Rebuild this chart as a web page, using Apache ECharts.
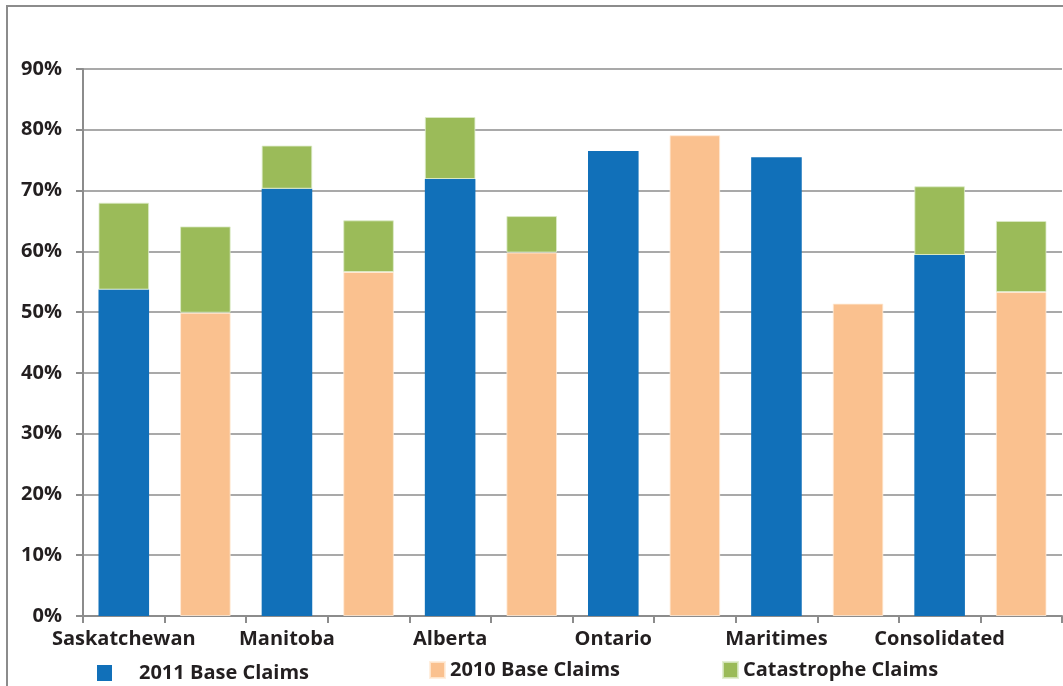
<!DOCTYPE html>
<html>
<head>
<meta charset="utf-8">
<script src="https://cdn.jsdelivr.net/npm/echarts@6/dist/echarts.min.js"></script>
<style>
html,body{margin:0;padding:0;background:#fff;}
#chart{width:1063px;height:686px;}
</style>
</head>
<body>
<div id="chart"></div>
<script>
var regions = ['Saskatchewan', 'Manitoba', 'Alberta', 'Ontario', 'Maritimes', 'Consolidated'];
var years = ['2011', '2010'];
var base2011 = [53.7, 70.3, 71.9, 76.5, 75.5, 59.4];
var base2010 = [49.9, 56.6, 59.8, 79.1, 51.4, 53.3];
var cat2011 = [14.3, 7.1, 10.2, 0, 0, 11.3];
var cat2010 = [14.2, 8.5, 6.0, 0, 0, 11.7];
var yTicks = [0, 10, 20, 30, 40, 50, 60, 70, 80, 90];

var categories = [];
var s2011 = [], s2010 = [], sCat = [];
regions.forEach(function (r, i) {
  categories.push(r + ' ' + years[0]);
  categories.push(r + ' ' + years[1]);
  s2011.push(base2011[i], null);
  s2010.push(null, base2010[i]);
  sCat.push(cat2011[i] || null, cat2010[i] || null);
});

var font = 'Open Sans';
var fs = 20;
var textColor = '#231F20';
var chart = echarts.init(document.getElementById('chart'), null, {renderer: 'canvas'});
var legendBase = {
  orient: 'horizontal',
  icon: 'rect',
  itemWidth: 15,
  itemHeight: 16,
  selectedMode: false,
  textStyle: {fontFamily: font, fontWeight: 'bold', fontSize: fs, color: textColor}
};
chart.setOption({
  animation: false,
  backgroundColor: '#fff',
  graphic: [{
    type: 'rect',
    shape: {x: 7, y: 6, width: 1100, height: 720},
    style: {fill: 'none', stroke: '#8c8c8c', lineWidth: 2},
    silent: true
  }],
  grid: {left: 83, right: 1, top: 69, bottom: 70, containLabel: false},
  legend: [
    Object.assign({}, legendBase, {data: ['2011 Base Claims'], left: 92, top: 658,
      textStyle: Object.assign({}, legendBase.textStyle, {padding: [0, 0, 0, 22]})}),
    Object.assign({}, legendBase, {data: ['2010 Base Claims'], left: 424, top: 655}),
    Object.assign({}, legendBase, {data: ['Catastrophe Claims'], left: 717, top: 655})
  ],
  xAxis: {
    type: 'category',
    data: categories,
    boundaryGap: true,
    axisLine: {show: true, lineStyle: {color: '#8c8c8c', width: 2}},
    axisTick: {show: true, interval: 0, length: 7, lineStyle: {color: '#8c8c8c', width: 2}},
    axisLabel: {
      interval: 0,
      margin: 13,
      fontFamily: font, fontWeight: 'bold', fontSize: fs, color: textColor,
      formatter: function (v, idx) { return idx % 2 === 0 ? regions[idx / 2] : ''; }
    }
  },
  yAxis: {
    type: 'value',
    min: yTicks[0],
    max: yTicks[yTicks.length - 1],
    interval: 10,
    axisLine: {show: true, lineStyle: {color: '#8c8c8c', width: 2}},
    axisTick: {show: true, length: 7, lineStyle: {color: '#8c8c8c', width: 2}},
    splitLine: {show: true, lineStyle: {color: '#8c8c8c', width: 1.5}},
    axisLabel: {
      margin: 21,
      fontFamily: font, fontWeight: 'bold', fontSize: fs, color: textColor,
      formatter: function (v) { return v + '%'; }
    }
  },
  series: [
    {name: '2011 Base Claims', type: 'bar', stack: 'a', data: s2011, barWidth: '62%',
      itemStyle: {color: '#1170B9'}},
    {name: '2010 Base Claims', type: 'bar', stack: 'a', data: s2010, barWidth: '62%',
      itemStyle: {color: '#FAC18F', borderColor: 'rgba(255,235,215,0.8)', borderWidth: 1}},
    {name: 'Catastrophe Claims', type: 'bar', stack: 'a', data: sCat, barWidth: '62%',
      itemStyle: {color: '#9BBB59', borderColor: 'rgba(220,235,200,0.8)', borderWidth: 1}}
  ]
});
</script>
</body>
</html>
